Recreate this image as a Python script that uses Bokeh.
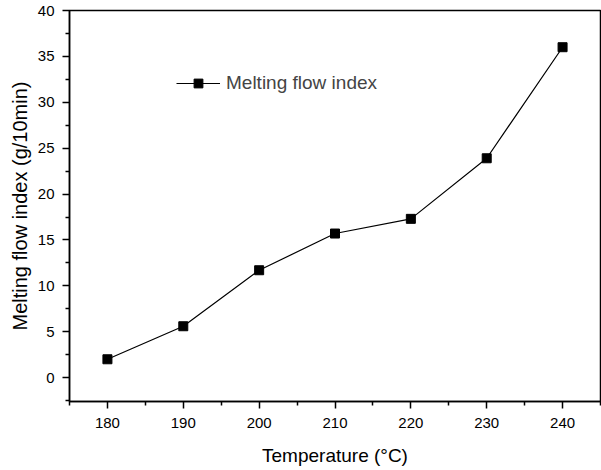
from bokeh.plotting import figure
from bokeh.models import Range1d, Legend, LegendItem, FixedTicker
from bokeh.embed import file_html
from bokeh.resources import INLINE

temperature = [180, 190, 200, 210, 220, 230, 240]
mfi = [2.0, 5.6, 11.7, 15.7, 17.3, 23.9, 36.0]
x_ticks = [180, 190, 200, 210, 220, 230, 240]
y_ticks = [0, 5, 10, 15, 20, 25, 30, 35, 40]

FONT = "Liberation Sans"

p = figure(frame_width=531, frame_height=391, output_backend="svg", toolbar_location=None,
           x_range=Range1d(175, 245), y_range=Range1d(-2.6, 40),
           min_border_left=69, min_border_top=10, min_border_right=1, min_border_bottom=58)
p.grid.visible = False
p.outline_line_color = "black"
p.outline_line_width = 1.5
p.background_fill_color = "white"
p.border_fill_color = "white"

r_line = p.line(temperature, mfi, line_color="black", line_width=1.2)
r_sq = p.scatter(temperature, mfi, marker="square", size=9, fill_color="black", line_color="black")

for ax in (p.xaxis[0], p.yaxis[0]):
    ax.axis_line_width = 1.5
    ax.major_tick_line_width = 1.5
    ax.minor_tick_line_width = 1.5
    ax.major_tick_in = 0
    ax.major_tick_out = 7
    ax.minor_tick_in = 0
    ax.minor_tick_out = 4
    ax.major_label_text_font = FONT
    ax.major_label_text_font_size = "15px"
    ax.major_label_text_color = "black"
    ax.axis_label_text_font = FONT
    ax.axis_label_text_font_style = "normal"
    ax.axis_label_text_color = "black"

p.xaxis[0].axis_label_text_font_size = "19px"
p.yaxis[0].axis_label_text_font_size = "20px"
p.xaxis[0].ticker = FixedTicker(ticks=x_ticks, minor_ticks=[175, 185, 195, 205, 215, 225, 235, 245])
p.yaxis[0].ticker = FixedTicker(ticks=y_ticks, minor_ticks=[-2.5, 2.5, 7.5, 12.5, 17.5, 22.5, 27.5, 32.5, 37.5])
p.xaxis[0].axis_label = "Temperature (\u00b0C)"
p.yaxis[0].axis_label = "Melting flow index (g/10min)"
p.xaxis[0].major_label_standoff = 9
p.yaxis[0].major_label_standoff = 8
p.xaxis[0].axis_label_standoff = 14
p.yaxis[0].axis_label_standoff = 4

legend = Legend(items=[LegendItem(label="Melting flow index", renderers=[r_line, r_sq])],
                location=(107, 307), glyph_width=44, glyph_height=22, padding=2,
                label_text_font=FONT, label_text_font_size="19px", label_standoff=6,
                border_line_color=None, background_fill_alpha=0)
p.add_layout(legend)

open("out.html", "w").write(file_html(p, INLINE))
